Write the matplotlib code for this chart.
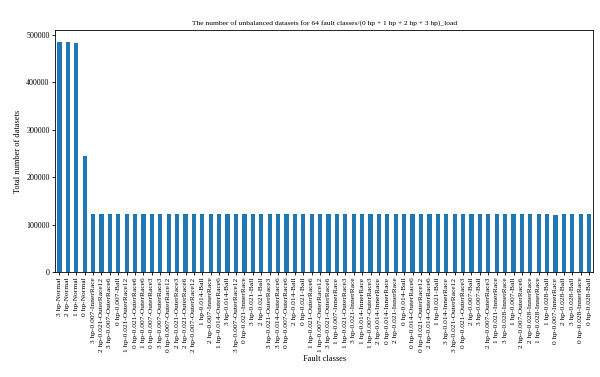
import matplotlib
matplotlib.use("Agg")
import matplotlib.pyplot as plt

plt.rcParams['font.family'] = ['Liberation Serif', 'DejaVu Serif']

classes = [
    "3 hp-Normal", "2 hp-Normal", "1 hp-Normal", "0 hp-Normal",
    "3 hp-0.007-InnerRace", "2 hp-0.021-OuterRace12", "3 hp-0.007-OuterRace6", "0 hp-0.007-Ball",
    "1 hp-0.021-OuterRace12", "0 hp-0.021-OuterRace6", "1 hp-0.007-OuterRace6", "0 hp-0.007-OuterRace3",
    "3 hp-0.007-OuterRace3", "0 hp-0.007-OuterRace12", "2 hp-0.021-OuterRace3", "2 hp-0.021-OuterRace6",
    "2 hp-0.007-OuterRace12", "1 hp-0.014-Ball", "2 hp-0.007-InnerRace", "1 hp-0.014-OuterRace6",
    "3 hp-0.014-Ball", "3 hp-0.007-OuterRace12", "0 hp-0.021-InnerRace", "3 hp-0.021-Ball",
    "2 hp-0.021-Ball", "3 hp-0.021-OuterRace3", "3 hp-0.014-OuterRace6", "0 hp-0.007-OuterRace6",
    "2 hp-0.014-Ball", "0 hp-0.021-Ball", "1 hp-0.021-OuterRace6", "1 hp-0.007-OuterRace12",
    "3 hp-0.021-OuterRace6", "1 hp-0.007-InnerRace", "1 hp-0.021-OuterRace3", "3 hp-0.021-InnerRace",
    "1 hp-0.014-InnerRace", "1 hp-0.007-OuterRace3", "2 hp-0.014-InnerRace", "0 hp-0.014-InnerRace",
    "2 hp-0.021-InnerRace", "0 hp-0.014-Ball", "0 hp-0.014-OuterRace6", "0 hp-0.021-OuterRace12",
    "2 hp-0.014-OuterRace6", "1 hp-0.021-Ball", "3 hp-0.014-InnerRace", "3 hp-0.021-OuterRace12",
    "0 hp-0.021-OuterRace3", "2 hp-0.007-Ball", "3 hp-0.007-Ball", "2 hp-0.007-OuterRace3",
    "1 hp-0.021-InnerRace", "3 hp-0.028-InnerRace", "1 hp-0.007-Ball", "2 hp-0.007-OuterRace6",
    "2 hp-0.028-InnerRace", "1 hp-0.028-InnerRace", "1 hp-0.028-Ball", "0 hp-0.007-InnerRace",
    "2 hp-0.028-Ball", "3 hp-0.028-Ball", "0 hp-0.028-InnerRace", "0 hp-0.028-Ball",
]

counts = [
    485643, 485063, 483903, 243938,
    122136, 122426, 122281, 122571,
    122136, 122426, 122426, 121991,
    122426, 122571, 122426, 122426,
    122426, 121846, 121556, 121991,
    122136, 122136, 121846, 122136,
    122136, 121991, 121991, 121846,
    122136, 121846, 122571, 122571,
    122281, 121991, 121846, 121701,
    121846, 121991, 121846, 121846,
    121556, 121846, 121846, 121991,
    121846, 121991, 121991, 121991,
    121846, 122281, 121846, 122426,
    121846, 121991, 121991, 121846,
    121991, 121991, 121991, 121265,
    121991, 121991, 121991, 121991,
]

fig = plt.figure(figsize=(6, 3.77), dpi=100)
ax = fig.add_axes([0.092, 0.278, 0.897, 0.642])

x = range(len(classes))
ax.bar(x, counts, width=0.5, color='#1f77b4')
ax.set_xlim(-0.5, len(classes) - 0.5)
ax.set_xticks(list(x))
ax.set_xticklabels(classes, rotation=90, fontsize=5.4)
ax.tick_params(axis='y', labelsize=5.8, length=2.5, width=0.6, pad=1.5)
ax.tick_params(axis='x', length=2.5, width=0.6, pad=1.5)
for s in ax.spines.values():
    s.set_linewidth(0.6)

ax.set_title("The number of unbalanced datasets for 64 fault classes/(0 hp + 1 hp + 2 hp + 3 hp)_load",
             fontsize=5.4, pad=4)
ax.set_ylabel("Total number of datasets", fontsize=6, labelpad=3)
ax.set_xlabel("Fault classes", fontsize=6, labelpad=2)

fig.savefig("out.png", dpi=100)
